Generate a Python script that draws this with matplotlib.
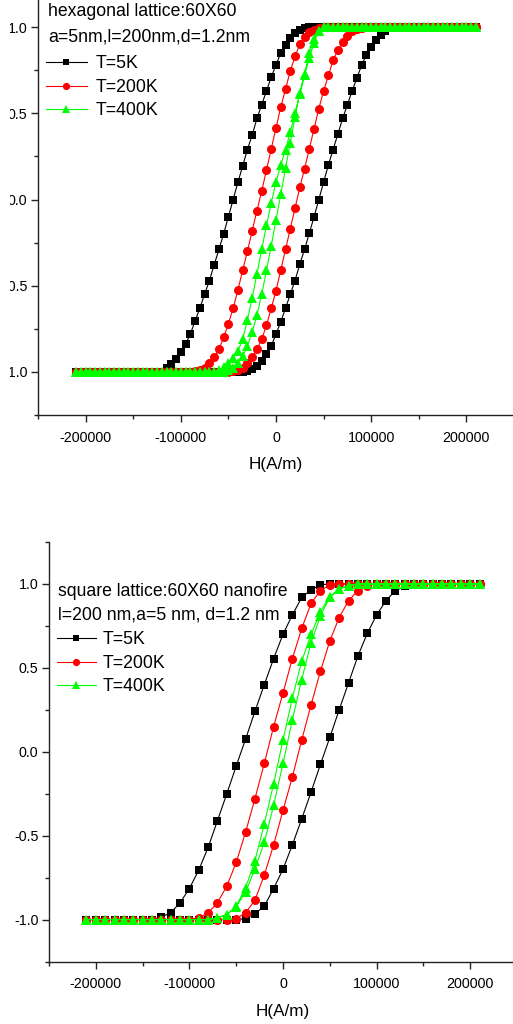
import numpy as np
import matplotlib.pyplot as plt
from matplotlib.ticker import MultipleLocator
from matplotlib.patches import Rectangle

plt.rcParams['font.family'] = ['Liberation Sans', 'DejaVu Sans']

# champ applique (A/m)
H_hex = np.arange(-210000, 210001, 5000)
H_sq = np.arange(-210000, 210001, 10000)

# reseau hexagonal : parties en transition (debut en A/m, valeurs)
hex_5K_desc = (-115000, [-0.975, -0.955, -0.925, -0.885, -0.84, -0.78, -0.705, -0.63, -0.55, -0.47,
                         -0.38, -0.29, -0.20, -0.10, 0.0, 0.10, 0.195, 0.29, 0.375, 0.47,
                         0.55, 0.63, 0.71, 0.78, 0.85, 0.895, 0.935, 0.965, 0.985, 0.995])
hex_5K_asc = (-30000, [-0.995, -0.985, -0.965, -0.935, -0.895, -0.85, -0.78, -0.71, -0.63, -0.55,
                       -0.47, -0.375, -0.29, -0.195, -0.10, 0.0, 0.10, 0.20, 0.29, 0.38,
                       0.47, 0.55, 0.63, 0.705, 0.78, 0.84, 0.885, 0.925, 0.955, 0.975])
hex_200K_desc = (-85000, [-0.995, -0.99, -0.975, -0.95, -0.915, -0.87, -0.80, -0.72, -0.63, -0.525,
                          -0.41, -0.30, -0.18, -0.065, 0.05, 0.17, 0.295, 0.415, 0.535, 0.64,
                          0.745, 0.83, 0.90, 0.945, 0.97, 0.985, 0.995])
hex_200K_asc = (-45000, [-0.995, -0.99, -0.975, -0.95, -0.915, -0.87, -0.81, -0.73, -0.63, -0.53,
                         -0.41, -0.29, -0.17, -0.05, 0.07, 0.178, 0.295, 0.41, 0.527, 0.63,
                         0.72, 0.808, 0.866, 0.915, 0.95, 0.975, 0.99, 0.995])
hex_400K_desc = (-60000, [-0.99, -0.97, -0.95, -0.92, -0.88, -0.81, -0.70, -0.57, -0.43, -0.29,
                          -0.15, -0.02, 0.10, 0.20, 0.29, 0.39, 0.50, 0.61, 0.72, 0.82,
                          0.91, 0.98])
hex_400K_asc = (-50000, [-0.99, -0.975, -0.95, -0.91, -0.85, -0.77, -0.67, -0.55, -0.41, -0.27,
                         -0.12, 0.03, 0.18, 0.33, 0.48, 0.62, 0.73, 0.85, 0.93, 0.98])

# reseau carre
sq_5K_desc = (-130000, [-0.985, -0.96, -0.90, -0.815, -0.705, -0.57, -0.41, -0.25, -0.085, 0.075,
                        0.24, 0.40, 0.555, 0.70, 0.815, 0.92, 0.965, 0.995])
sq_5K_asc = (-40000, [-0.995, -0.965, -0.92, -0.815, -0.70, -0.555, -0.40, -0.24, -0.075, 0.085,
                      0.25, 0.41, 0.57, 0.705, 0.815, 0.90, 0.96, 0.985])
sq_200K_desc = (-90000, [-0.99, -0.96, -0.90, -0.80, -0.66, -0.48, -0.28, -0.07, 0.15, 0.35,
                         0.555, 0.735, 0.885, 0.96, 0.995])
sq_200K_asc = (-50000, [-0.995, -0.96, -0.885, -0.735, -0.555, -0.35, -0.15, 0.07, 0.28, 0.48,
                        0.66, 0.80, 0.90, 0.96, 0.99])
sq_400K_desc = (-70000, [-0.99, -0.97, -0.92, -0.81, -0.65, -0.43, -0.19, 0.07, 0.32, 0.54,
                         0.70, 0.835, 0.925, 0.97, 0.99])
sq_400K_asc = (-70000, [-0.99, -0.97, -0.925, -0.835, -0.70, -0.54, -0.32, -0.07, 0.19, 0.43,
                        0.65, 0.81, 0.92, 0.97, 0.99])

labels = ['T=5K', 'T=200K', 'T=400K']
colors = ['#000000', '#ff0000', '#00ff00']
markers = ['s', 'o', '^']
msizes = [5.5, 6.5, 7.0]


def branch(H, part):
    # saturation -1 avant la transition, +1 apres
    h0, vals = part
    step = H[1] - H[0]
    i0 = int(round((h0 - H[0]) / step))
    M = np.ones(len(H))
    M[:i0] = -1.0
    M[i0:i0 + len(vals)] = vals
    return M


def boucle(H, desc, asc):
    Md = branch(H, desc)
    Ma = branch(H, asc)
    return np.concatenate([H[::-1], H]), np.concatenate([Md[::-1], Ma])


fig = plt.figure(figsize=(5.13, 10.24), dpi=100)
W, Hfig = 513.0, 1024.0


def px_axes(l, r, t, b):
    return fig.add_axes([l / W, 1 - b / Hfig, (r - l) / W, (b - t) / Hfig])


ax1 = px_axes(38, 514, -16, 415)
ax2 = px_axes(49, 517, 542, 961.5)

data_hex = [(hex_5K_desc, hex_5K_asc), (hex_200K_desc, hex_200K_asc), (hex_400K_desc, hex_400K_asc)]
data_sq = [(sq_5K_desc, sq_5K_asc), (sq_200K_desc, sq_200K_asc), (sq_400K_desc, sq_400K_asc)]

for ax, H, data in [(ax1, H_hex, data_hex), (ax2, H_sq, data_sq)]:
    for (d, a), lab, c, m, ms in zip(data, labels, colors, markers, msizes):
        x, y = boucle(H, d, a)
        ax.plot(x, y, color=c, marker=m, markersize=ms, linewidth=0.8, label=lab,
                markeredgewidth=0, clip_on=False)
    ax.set_xlim(-250000, 250000)
    ax.set_ylim(-1.25, 1.25)
    ax.xaxis.set_major_locator(MultipleLocator(100000))
    ax.xaxis.set_minor_locator(MultipleLocator(50000))
    ax.yaxis.set_major_locator(MultipleLocator(0.5))
    ax.yaxis.set_minor_locator(MultipleLocator(0.25))
    ax.set_xticks([-200000, -100000, 0, 100000, 200000])
    ax.set_xticklabels(['-200000', '-100000', '0', '100000', '200000'])
    ax.set_yticks([-1.0, -0.5, 0.0, 0.5, 1.0])
    ax.set_yticklabels(['-1.0', '-0.5', '0.0', '0.5', '1.0'])
    ax.tick_params(which='both', direction='out', labelsize=10.3, width=1.0, color='#222222')
    ax.tick_params(which='major', length=5, pad=2.5)
    ax.tick_params(axis='x', which='major', pad=6.5)
    ax.tick_params(which='minor', length=3)
    for s in ['top', 'right']:
        ax.spines[s].set_visible(False)
    for s in ['left', 'bottom']:
        ax.spines[s].set_linewidth(1.0)
        ax.spines[s].set_color('#222222')
    ax.set_xlabel('H(A/m)', fontsize=12.3, labelpad=9)

# legendes
fig.text(48 / W, 1 - 16.5 / Hfig, 'hexagonal lattice:60X60', fontsize=12.7, va='baseline', ha='left')
fig.text(48 / W, 1 - 42 / Hfig, 'a=5nm,l=200nm,d=1.2nm', fontsize=12.7, va='baseline', ha='left')
ax1.legend(loc='upper left', bbox_to_anchor=(46 / W, 1 - 55 / Hfig), bbox_transform=fig.transFigure,
           frameon=False, fontsize=12.7, handlelength=2.3, handletextpad=0.5, labelspacing=0.38,
           borderpad=0, borderaxespad=0, markerscale=0.8)

fig.text(58 / W, 1 - 596 / Hfig, 'square lattice:60X60 nanofire', fontsize=12.7, va='baseline', ha='left')
fig.text(58 / W, 1 - 619 / Hfig, 'l=200 nm,a=5 nm, d=1.2 nm', fontsize=12.7, va='baseline', ha='left')
ax2.legend(loc='upper left', bbox_to_anchor=(57 / W, 1 - 631 / Hfig), bbox_transform=fig.transFigure,
           frameon=False, fontsize=12.7, handlelength=2.2, handletextpad=0.4, labelspacing=0.38,
           borderpad=0, borderaxespad=0, markerscale=0.8)

# le graphique du haut est rogne a gauche dans l'image d'origine
fig.patches.append(Rectangle((0, 1 - 480 / Hfig), 9.5 / W, 480 / Hfig, transform=fig.transFigure,
                             facecolor='white', edgecolor='none', zorder=10))

fig.savefig('out.png', dpi=100)
